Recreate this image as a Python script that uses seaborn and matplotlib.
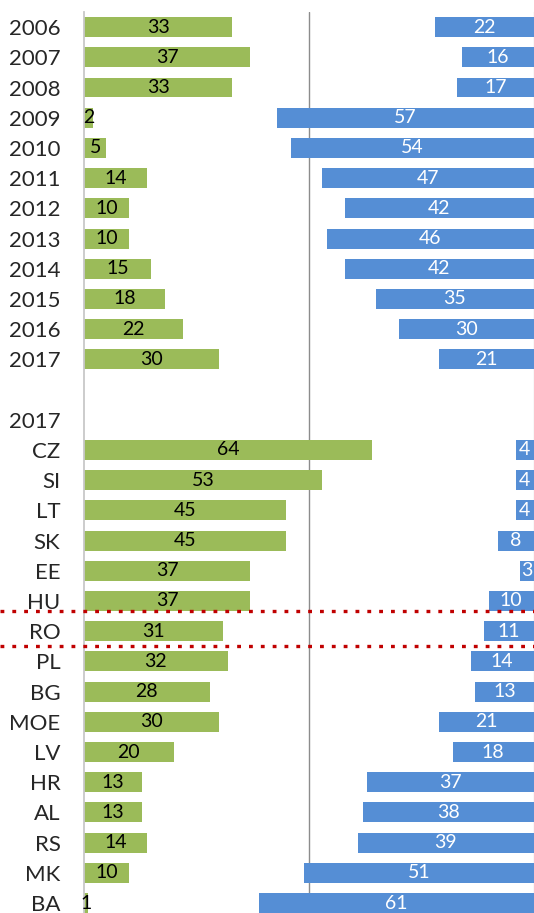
import numpy as np
import pandas as pd
import matplotlib.pyplot as plt
import seaborn as sns
from matplotlib.lines import Line2D
from matplotlib.transforms import blended_transform_factory

# values
years = ['2006', '2007', '2008', '2009', '2010', '2011', '2012', '2013',
         '2014', '2015', '2016', '2017']
years_green = [33, 37, 33, 2, 5, 14, 10, 10, 15, 18, 22, 30]
years_blue = [22, 16, 17, 57, 54, 47, 42, 46, 42, 35, 30, 21]

countries = ['CZ', 'SI', 'LT', 'SK', 'EE', 'HU', 'RO', 'PL', 'BG', 'MOE',
             'LV', 'HR', 'AL', 'RS', 'MK', 'BA']
countries_green = [64, 53, 45, 45, 37, 37, 31, 32, 28, 30, 20, 13, 13, 14, 10, 1]
countries_blue = [4, 4, 4, 8, 3, 10, 11, 14, 13, 21, 18, 37, 38, 39, 51, 61]

# one empty row and one header row ("2017") between the two blocks
labels = years + ['', '2017'] + countries
green = years_green + [np.nan, np.nan] + countries_green
blue = years_blue + [np.nan, np.nan] + countries_blue

df = pd.DataFrame({'row': np.arange(len(labels)), 'label': labels,
                   'green': green, 'blue': blue})

GREEN = '#9BBB59'
BLUE = '#558ED5'

sns.set_style('white')
plt.rcParams['font.family'] = ['Lato', 'DejaVu Sans']

fig = plt.figure(figsize=(5.34, 9.13), dpi=100)
ax = fig.add_axes([84 / 534, 0, 449.5 / 534, 1 - 12 / 913])

sns.barplot(data=df, x='green', y='row', orient='h', native_scale=True,
            color=GREEN, saturation=1, width=0.66, linewidth=0,
            errorbar=None, ax=ax)
ax.bar_label(ax.containers[0], label_type='center', fontsize=14,
             color='black')

# blue bars grow from the right edge: mirrored twin axis
ax2 = ax.twiny()
sns.barplot(data=df, x='blue', y='row', orient='h', native_scale=True,
            color=BLUE, saturation=1, width=0.66, linewidth=0,
            errorbar=None, ax=ax2)
ax2.bar_label(ax2.containers[0], label_type='center', fontsize=14,
              color='white')
ax2.set_xlim(100, 0)
ax2.tick_params(top=False, labeltop=False)
ax2.set_xlabel('')
for s in ax2.spines.values():
    s.set_visible(False)

ax.set_xlim(0, 100)
ax.set_ylim(len(labels) - 1 + 0.33, -0.5)
ax.set_xticks([50])
ax.tick_params(axis='x', bottom=False, labelbottom=False)
ax.grid(axis='x', color='#8c8c8c', linewidth=1)
ax.set_axisbelow(True)

rows = [i for i, l in enumerate(labels) if l]
ax.set_yticks(rows)
ax.set_yticklabels([labels[i] for i in rows], fontsize=16)
ax.tick_params(axis='y', length=0, pad=17)
ax.set_xlabel('')
ax.set_ylabel('')

for side in ['top', 'bottom']:
    ax.spines[side].set_visible(False)
ax.spines['left'].set_color('#c8c8c8')
ax.spines['left'].set_linewidth(1.3)
ax.spines['right'].set_color('#8c8c8c')
ax.spines['right'].set_linewidth(0.8)

# red dotted markers around the RO row
trans = blended_transform_factory(fig.transFigure, ax.transData)
hu = labels.index('HU')
ro = labels.index('RO')
for y in [hu + 0.32, ro + 0.49]:
    fig.add_artist(Line2D([0, 1], [y, y], transform=trans, color='#C00000',
                          linewidth=2.4, linestyle=(0, (1.15, 2.4)),
                          dash_capstyle='butt', clip_on=False))

fig.savefig('out.png', dpi=100)
